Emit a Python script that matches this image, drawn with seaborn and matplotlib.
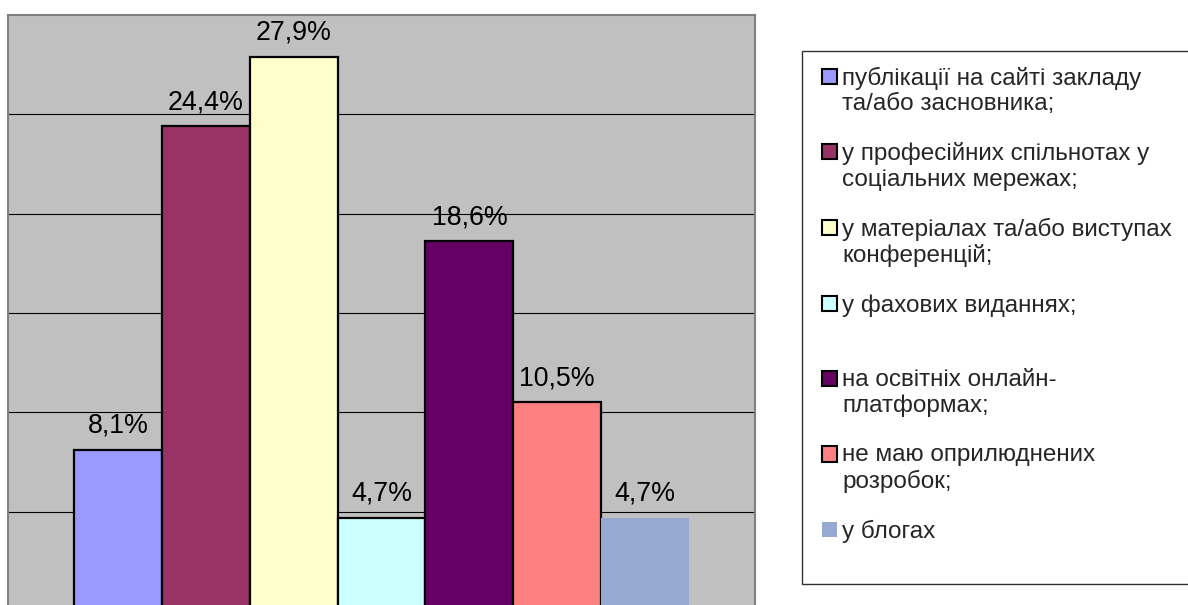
import matplotlib
matplotlib.use("Agg")
import matplotlib.pyplot as plt
import seaborn as sns
import pandas as pd
from matplotlib.patches import Patch, Rectangle
from matplotlib.legend_handler import HandlerPatch

# Data
categories = [
    "публікації на сайті закладу\nта/або засновника;",
    "у професійних спільнотах у\nсоціальних мережах;",
    "у матеріалах та/або виступах\nконференцій;",
    "у фахових виданнях;\n ",
    "на освітніх онлайн-\nплатформах;",
    "не маю оприлюднених\nрозробок;",
    "у блогах\n ",
]
values = [8.1, 24.4, 27.9, 4.7, 18.6, 10.5, 4.7]
colors = ["#9999FF", "#993366", "#FFFFCC", "#CCFFFF", "#660066", "#FF8080", "#95A9D1"]
edge_on = [True, True, True, True, True, True, False]

df = pd.DataFrame({"cat": categories, "val": values})

sns.set_style("white")
plt.rcParams["font.family"] = ["Liberation Sans", "DejaVu Sans"]

fig = plt.figure(figsize=(11.88, 6.05), dpi=100)
ax = fig.add_axes([8 / 1188, 1 - 611 / 605, 747 / 1188, 596 / 605])

sns.barplot(data=df, x="cat", y="val", hue="cat", palette=colors, width=1,
            dodge=False, legend=False, ax=ax, edgecolor="black", linewidth=1.6,
            saturation=1)

for cont, on in zip(ax.containers, edge_on):
    for p in cont:
        if not on:
            p.set_edgecolor("none")
            p.set_linewidth(0)
for cont, v in zip(ax.containers, values):
    ax.bar_label(cont, labels=[f"{v:.1f}%".replace(".", ",")], padding=8,
                 fontsize=19.3, color="black")

ax.set_facecolor("#C0C0C0")
ax.set_xlim(-1.25, 7.25)
ax.set_ylim(0, 30)
ax.set_yticks([5, 10, 15, 20, 25])
ax.yaxis.grid(True, color="black", linewidth=0.8)
ax.set_axisbelow(True)
ax.tick_params(left=False, bottom=False, labelleft=False, labelbottom=False)
ax.set_xlabel("")
ax.set_ylabel("")
for s in ax.spines.values():
    s.set_visible(True)
    s.set_color("#808080")
    s.set_linewidth(1.5)


# square marker aligned with the first text line, pushed to the right of its box
def raised_box(legend, orig_handle, xdescent, ydescent, width, height, fontsize):
    return Rectangle((-xdescent + width - height, -ydescent + fontsize * 0.6),
                     height, height)


handles = [Patch(facecolor=c, edgecolor="black" if on else "none", linewidth=1.5)
           for c, on in zip(colors, edge_on)]
leg = fig.legend(handles, categories, loc="upper left",
                 bbox_to_anchor=(802 / 1188, 1 - 51 / 605, 0.4, 0.0), mode="expand",
                 fontsize=17.5, frameon=True, fancybox=False, borderpad=0.65,
                 labelspacing=1.11, handlelength=0.8, handleheight=0.58,
                 handletextpad=0.2, borderaxespad=0,
                 handler_map={Patch: HandlerPatch(patch_func=raised_box)})
leg.get_frame().set_edgecolor("black")
leg.get_frame().set_linewidth(1.0)

fig.savefig("out.png", dpi=100, facecolor="white")
